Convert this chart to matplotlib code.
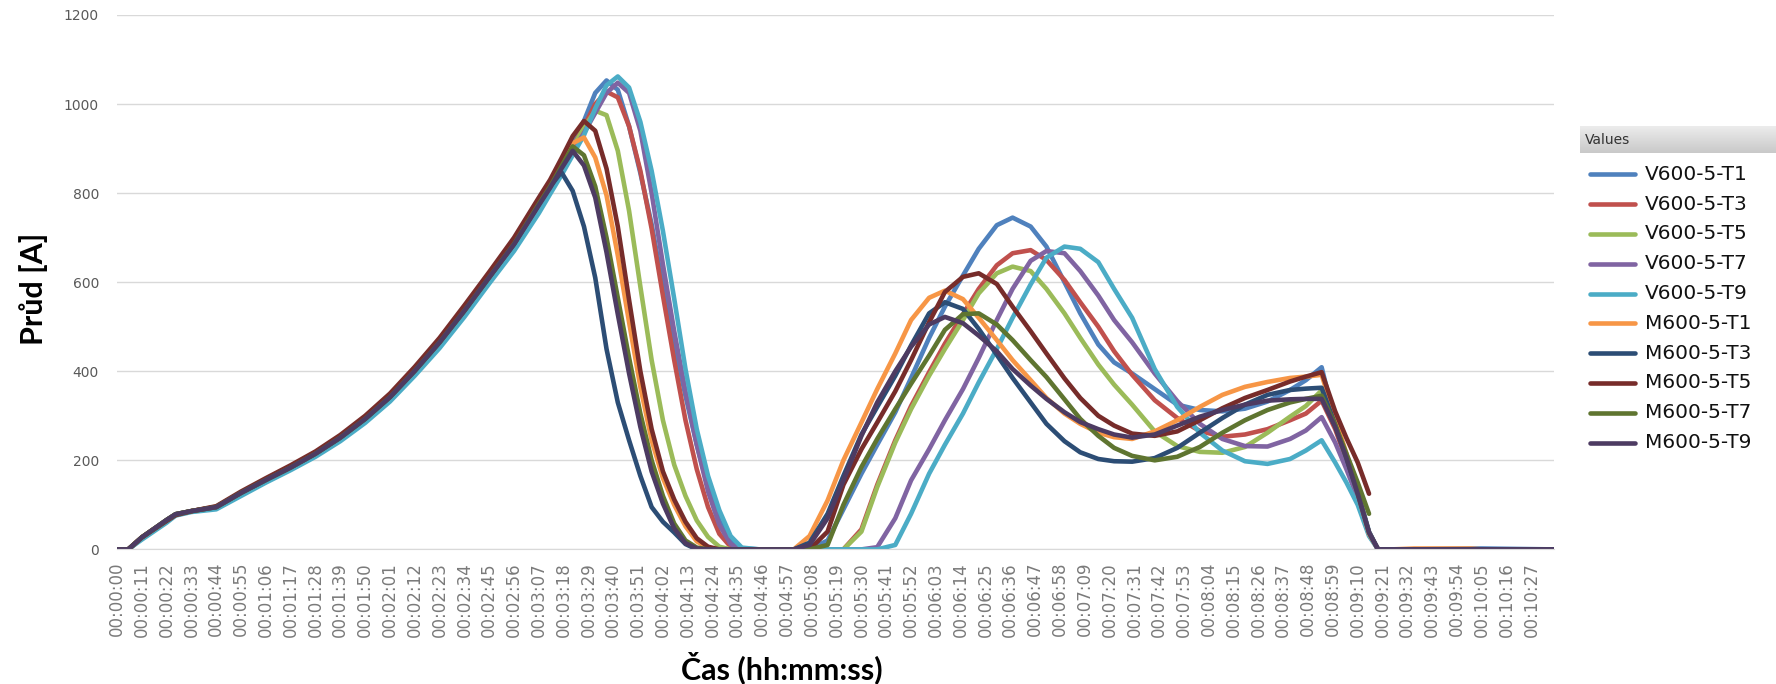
import numpy as np
import matplotlib.pyplot as plt
from matplotlib.lines import Line2D
from matplotlib.colors import LinearSegmentedColormap

nan = np.nan

# time of each sample in seconds
t = [0, 5, 11, 22, 26, 33, 44, 55, 66, 77, 88, 99, 110, 121, 132, 143, 154, 165, 176, 187,
     192, 197, 202, 207, 212, 217, 222, 227, 232, 237, 242, 247, 252, 257, 262, 267, 272, 277, 285, 295,
     300, 307, 315, 322, 330, 337, 345, 352, 360, 367, 375, 382, 390, 397, 405, 412, 420, 427, 435, 442, 450,
     460, 470, 480, 490, 500, 510, 520, 527, 534, 540, 545, 550, 555, 559, 565, 575, 600, 605, 637]

v600_t1 = [0, 0, 26, 66, 79, 86, 95, 127, 156, 184, 215, 251, 293, 342, 401, 465, 536, 611, 686, 773,
           818, 862, 910, 962, 1025, 1053, 1032, 950, 845, 730, 590, 465, 345, 235, 140, 65, 18, 2, 0, 0,
           0, 0, 20, 90, 170, 235, 308, 385, 475, 545, 615, 675, 728, 745, 725, 680, 600, 530, 460, 420, 395,
           360, 325, 313, 310, 316, 332, 358, 380, 409, 285, 210, 130, 40, 0, 0, 0, 2, 2, 0]
v600_t3 = [0, 0, 27, 65, 78, 86, 95, 127, 156, 184, 215, 251, 292, 341, 400, 464, 535, 610, 685, 772,
           815, 858, 903, 950, 1000, 1028, 1015, 950, 850, 720, 570, 425, 290, 180, 95, 35, 6, 0, 0, 0,
           0, 0, 0, 0, 45, 145, 245, 322, 398, 462, 528, 585, 638, 665, 672, 650, 605, 555, 500, 445, 392,
           335, 295, 266, 253, 258, 270, 290, 305, 334, 270, 200, 122, 38, 0, 0, 0, 0, 0, 0]
v600_t5 = [0, 0, 27, 66, 79, 86, 95, 127, 156, 184, 215, 251, 293, 342, 401, 465, 536, 611, 685, 773,
           815, 858, 902, 947, 985, 975, 895, 760, 590, 425, 290, 190, 120, 65, 28, 6, 0, 0, 0, 0,
           0, 0, 0, 0, 40, 140, 240, 315, 390, 450, 515, 575, 620, 635, 625, 585, 530, 475, 415, 370, 325,
           265, 232, 219, 217, 230, 262, 298, 322, 357, 280, 205, 125, 38, 0, 0, 0, 0, 0, 0]
v600_t7 = [0, 0, 25, 64, 77, 85, 93, 124, 153, 181, 212, 248, 289, 338, 396, 460, 530, 605, 680, 768,
           808, 850, 893, 935, 980, 1025, 1048, 1025, 940, 800, 640, 490, 355, 235, 130, 55, 12, 0, 0, 0,
           0, 0, 0, 0, 0, 5, 70, 155, 225, 290, 360, 430, 515, 585, 648, 670, 665, 625, 570, 515, 465,
           395, 333, 282, 248, 232, 231, 248, 267, 297, 240, 180, 115, 35, 0, 0, 0, 0, 0, 0]
v600_t9 = [0, 0, 22, 60, 76, 84, 90, 120, 150, 178, 208, 243, 284, 332, 390, 452, 522, 597, 670, 755,
           798, 840, 885, 930, 990, 1042, 1062, 1037, 960, 850, 715, 563, 405, 270, 165, 88, 30, 4, 0, 0,
           0, 0, 0, 0, 0, 0, 10, 80, 170, 235, 305, 375, 450, 520, 595, 655, 680, 675, 645, 585, 520,
           405, 320, 262, 222, 198, 192, 203, 222, 245, 195, 150, 100, 30, 0, 0, 0, 0, 0, 0]
m600_t1 = [0, 0, 27, 66, 79, 86, 96, 128, 157, 185, 216, 252, 294, 343, 402, 466, 537, 612, 687, 775,
           815, 860, 912, 925, 880, 795, 660, 510, 365, 245, 160, 100, 52, 18, 3, 0, 0, 0, 0, 0,
           0, 30, 110, 200, 285, 360, 440, 515, 565, 581, 562, 520, 470, 425, 380, 340, 305, 282, 262, 252, 248,
           265, 290, 320, 347, 365, 376, 385, 388, 392, 295, 215, 125, 35, 0, 0, 2, 2, 0, 0]
m600_t3 = [0, 0, 27, 66, 79, 86, 95, 127, 156, 184, 215, 251, 293, 342, 401, 465, 536, 611, 686, 775,
           815, 847, 805, 725, 610, 450, 330, 245, 165, 95, 62, 38, 12, 0, 0, 0, 0, 0, 0, 0,
           0, 15, 80, 165, 258, 320, 390, 458, 530, 555, 540, 495, 437, 385, 330, 282, 243, 218, 203, 198, 197,
           205, 228, 262, 295, 325, 347, 358, 361, 363, 280, 205, 125, 38, 0, 0, 0, 0, 0, 0]
m600_t5 = [0, 0, 27, 64, 77, 86, 97, 130, 160, 189, 220, 257, 300, 350, 410, 475, 548, 623, 700, 790,
           830, 878, 928, 962, 940, 855, 725, 560, 400, 270, 175, 112, 62, 25, 6, 0, 0, 0, 0, 0,
           0, 0, 40, 145, 225, 285, 355, 425, 510, 578, 612, 620, 596, 545, 490, 440, 384, 340, 300, 278, 260,
           255, 265, 290, 317, 340, 358, 377, 388, 398, 310, 250, 195, 125, nan, nan, nan, nan, nan, nan]
m600_t7 = [0, 0, 27, 66, 79, 86, 95, 127, 156, 184, 215, 251, 293, 342, 401, 465, 536, 611, 686, 776,
           815, 860, 905, 885, 815, 700, 565, 430, 305, 200, 120, 58, 20, 4, 0, 0, 0, 0, 0, 0,
           0, 0, 10, 100, 185, 248, 315, 372, 435, 493, 528, 530, 505, 470, 425, 387, 337, 293, 255, 228, 210,
           200, 208, 230, 262, 290, 313, 330, 338, 345, 280, 215, 150, 80, nan, nan, nan, nan, nan, nan]
m600_t9 = [0, 0, 27, 66, 79, 86, 95, 127, 156, 184, 215, 251, 293, 342, 401, 465, 536, 611, 685, 773,
           812, 855, 895, 862, 790, 667, 528, 395, 275, 175, 103, 47, 14, 2, 0, 0, 0, 0, 0, 0,
           0, 10, 70, 155, 255, 330, 400, 455, 505, 522, 508, 480, 445, 405, 368, 338, 308, 286, 270, 258, 251,
           258, 278, 298, 313, 325, 334, 337, 338, 338, 275, 205, 125, 38, 0, 0, 0, 0, 0, 0]

names = ['V600-5-T1', 'V600-5-T3', 'V600-5-T5', 'V600-5-T7', 'V600-5-T9',
         'M600-5-T1', 'M600-5-T3', 'M600-5-T5', 'M600-5-T7', 'M600-5-T9']
series = [v600_t1, v600_t3, v600_t5, v600_t7, v600_t9,
          m600_t1, m600_t3, m600_t5, m600_t7, m600_t9]
colors = ['#4F81BD', '#C0504D', '#9BBB59', '#8064A2', '#4BACC6',
          '#F79646', '#2C4D75', '#772C2A', '#5F7530', '#4D3B62']

tick_labels = ['00:00:00', '00:00:11', '00:00:22', '00:00:33', '00:00:44', '00:00:55',
               '00:01:06', '00:01:17', '00:01:28', '00:01:39', '00:01:50', '00:02:01',
               '00:02:12', '00:02:23', '00:02:34', '00:02:45', '00:02:56', '00:03:07',
               '00:03:18', '00:03:29', '00:03:40', '00:03:51', '00:04:02', '00:04:13',
               '00:04:24', '00:04:35', '00:04:46', '00:04:57', '00:05:08', '00:05:19',
               '00:05:30', '00:05:41', '00:05:52', '00:06:03', '00:06:14', '00:06:25',
               '00:06:36', '00:06:47', '00:06:58', '00:07:09', '00:07:20', '00:07:31',
               '00:07:42', '00:07:53', '00:08:04', '00:08:15', '00:08:26', '00:08:37',
               '00:08:48', '00:08:59', '00:09:10', '00:09:21', '00:09:32', '00:09:43',
               '00:09:54', '00:10:05', '00:10:16', '00:10:27']

W, H = 1776, 684
fig = plt.figure(figsize=(W / 100, H / 100), dpi=100)
ax = fig.add_axes([117 / W, 1 - 549.4 / H, (1554 - 117) / W, (549.4 - 15) / H])

for vals, c in zip(series, colors):
    ax.plot(t, vals, color=c, lw=3.3, solid_joinstyle='round', solid_capstyle='round')

ax.set_xlim(0, 637)
ax.set_ylim(0, 1200)
ax.set_yticks(range(0, 1201, 200))
ax.set_xticks(range(0, 628, 11))
ax.set_xticklabels(tick_labels, rotation=90, fontsize=12, color='#7A7A7A')
ax.tick_params(axis='x', length=0, pad=9)
ax.tick_params(axis='y', length=0, pad=13, labelsize=10, labelcolor='#595959')
ax.grid(axis='y', color='#D9D9D9', lw=1)
ax.set_axisbelow(True)
for s in ['top', 'right', 'left']:
    ax.spines[s].set_visible(False)
ax.spines['bottom'].set_color('#D9D9D9')

fig.text(34 / W, 1 - 289 / H, 'Průd [A]', rotation=90, ha='center', va='center',
         fontsize=22, fontweight='bold', family='Lato')
fig.text(782 / W, 1 - 668 / H, 'Čas (hh:mm:ss)', ha='center', va='center',
         fontsize=22, fontweight='bold', family='Lato')

# legend panel with grey "Values" header
hax = fig.add_axes([1580 / W, 1 - 153 / H, 196 / W, 27 / H])
grad = np.linspace(0, 1, 50).reshape(-1, 1)
hax.imshow(grad, aspect='auto', cmap=LinearSegmentedColormap.from_list('g', ['#ECECEC', '#C9C9C9']),
           extent=[0, 1, 0, 1], origin='upper')
hax.set_axis_off()
fig.text(1585 / W, 1 - 140 / H, 'Values', ha='left', va='center', fontsize=10, color='#333333')

for i, (name, c) in enumerate(zip(names, colors)):
    y = 1 - (174.3 + 29.8 * i) / H
    fig.add_artist(Line2D([1590 / W, 1635 / W], [y, y], color=c, lw=3.3,
                          solid_capstyle='round', transform=fig.transFigure))
    fig.text(1645 / W, y, name, ha='left', va='center', fontsize=14.5, color='#111111')

fig.savefig('out.png', dpi=100)
